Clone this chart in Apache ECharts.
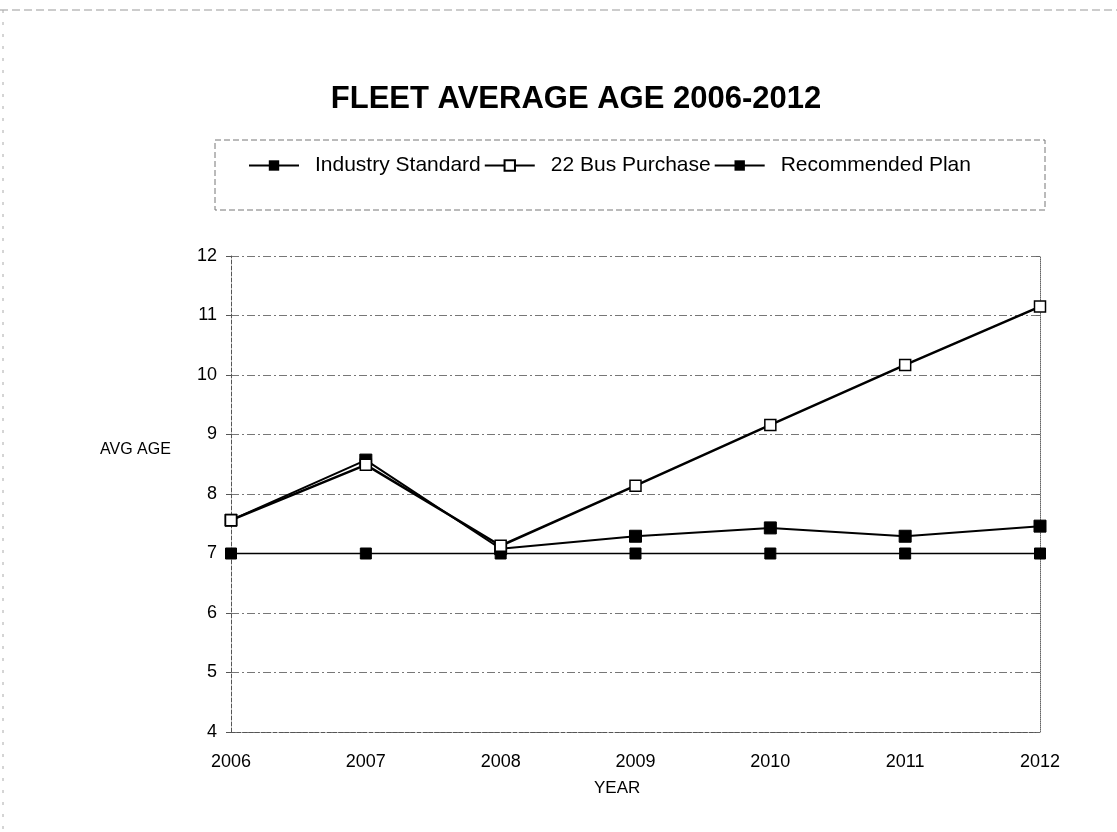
<!DOCTYPE html>
<html>
<head>
<meta charset="utf-8">
<script src="https://cdn.jsdelivr.net/npm/echarts@6/dist/echarts.min.js"></script>
<style>
  html, body { margin: 0; padding: 0; background: #fff; }
  #chart { width: 1117px; height: 832px; }
</style>
</head>
<body>
<div id="chart"></div>
<script>
// data
const years = ["2006", "2007", "2008", "2009", "2010", "2011", "2012"];
const industryStandard = [7, 7, 7, 7, 7, 7, 7];
const busPurchase22 = [7.56, 8.49, 7.13, 8.14, 9.16, 10.17, 11.15];
const recommendedPlan = [7.56, 8.57, 7.08, 7.29, 7.43, 7.29, 7.46];

const font = "Liberation Sans, Arial, sans-serif";

const chart = echarts.init(document.getElementById("chart"));

const option = {
  backgroundColor: "#fff",
  animation: false,
  textStyle: { fontFamily: font, color: "#000" },
  title: {
    text: "FLEET AVERAGE AGE 2006-2012",
    left: 571,
    top: 79,
    textAlign: "center",
    textStyle: { fontSize: 31, fontWeight: "bold", color: "#000", fontFamily: font },
  },
  legend: {
    left: 243,
    top: 150,
    itemWidth: 50,
    itemHeight: 13,
    itemGap: 3,
    textStyle: { fontSize: 21, color: "#000", fontFamily: font, padding: [0, 0, 0, 11] },
    data: ["Industry Standard", "22 Bus Purchase", "Recommended Plan"],
  },
  grid: { left: 231, right: 77, top: 256, bottom: 100 },
  xAxis: {
    type: "category",
    data: years,
    boundaryGap: false,
    axisLine: { lineStyle: { color: "#555", type: "dashed" } },
    axisTick: { show: false },
    axisLabel: { fontSize: 18, color: "#000", margin: 21, fontFamily: font },
  },
  yAxis: [
    {
      type: "value",
      min: 4,
      max: 12,
      interval: 1,
      axisLine: { show: true, lineStyle: { color: "#555", type: "dashed" } },
      axisTick: { show: true, length: 5, lineStyle: { color: "#555" } },
      axisLabel: { fontSize: 18, color: "#000", margin: 14, fontFamily: font },
      splitLine: { lineStyle: { color: "#777", type: [8, 3, 2, 3], width: 1 } },
    },
    {
      type: "value",
      min: 4,
      max: 12,
      interval: 1,
      position: "right",
      axisLine: { show: true, lineStyle: { color: "#666", type: "dotted" } },
      axisTick: { show: true, inside: true, length: 4, lineStyle: { color: "#666" } },
      axisLabel: { show: false },
      splitLine: { show: false },
    },
  ],
  graphic: [
    // legend frame
    {
      type: "rect",
      shape: { x: 215, y: 140, width: 830, height: 70 },
      style: { fill: "none", stroke: "#777", lineWidth: 1, lineDash: [6, 3] },
      silent: true,
    },
    // page frame lines
    {
      type: "line",
      shape: { x1: 0, y1: 10, x2: 1117, y2: 10 },
      style: { stroke: "#999", lineWidth: 1, lineDash: [8, 4] },
      silent: true,
    },
    {
      type: "line",
      shape: { x1: 3, y1: 10, x2: 3, y2: 832 },
      style: { stroke: "#aaa", lineWidth: 1, lineDash: [3, 9] },
      silent: true,
    },
    {
      type: "text",
      left: 100,
      top: 442,
      style: { text: "AVG AGE", fontSize: 16, fill: "#000", fontFamily: font },
    },
    {
      type: "text",
      left: 594,
      top: 780,
      style: { text: "YEAR", fontSize: 17, fill: "#000", fontFamily: font },
    },
  ],
  series: [
    {
      name: "Industry Standard",
      type: "line",
      data: industryStandard,
      symbol: "rect",
      symbolSize: 11,
      lineStyle: { color: "#000", width: 1.5 },
      itemStyle: { color: "#000", borderColor: "#000" },
    },
    {
      name: "22 Bus Purchase",
      type: "line",
      data: busPurchase22,
      symbol: "rect",
      symbolSize: 11,
      lineStyle: { color: "#000", width: 2.5 },
      itemStyle: { color: "#fff", borderColor: "#000", borderWidth: 1.5 },
      z: 4,
    },
    {
      name: "Recommended Plan",
      type: "line",
      data: recommendedPlan,
      symbol: "rect",
      symbolSize: 12,
      lineStyle: { color: "#000", width: 2 },
      itemStyle: { color: "#000", borderColor: "#000" },
      z: 3,
    },
  ],
};

chart.setOption(option);
</script>
</body>
</html>
